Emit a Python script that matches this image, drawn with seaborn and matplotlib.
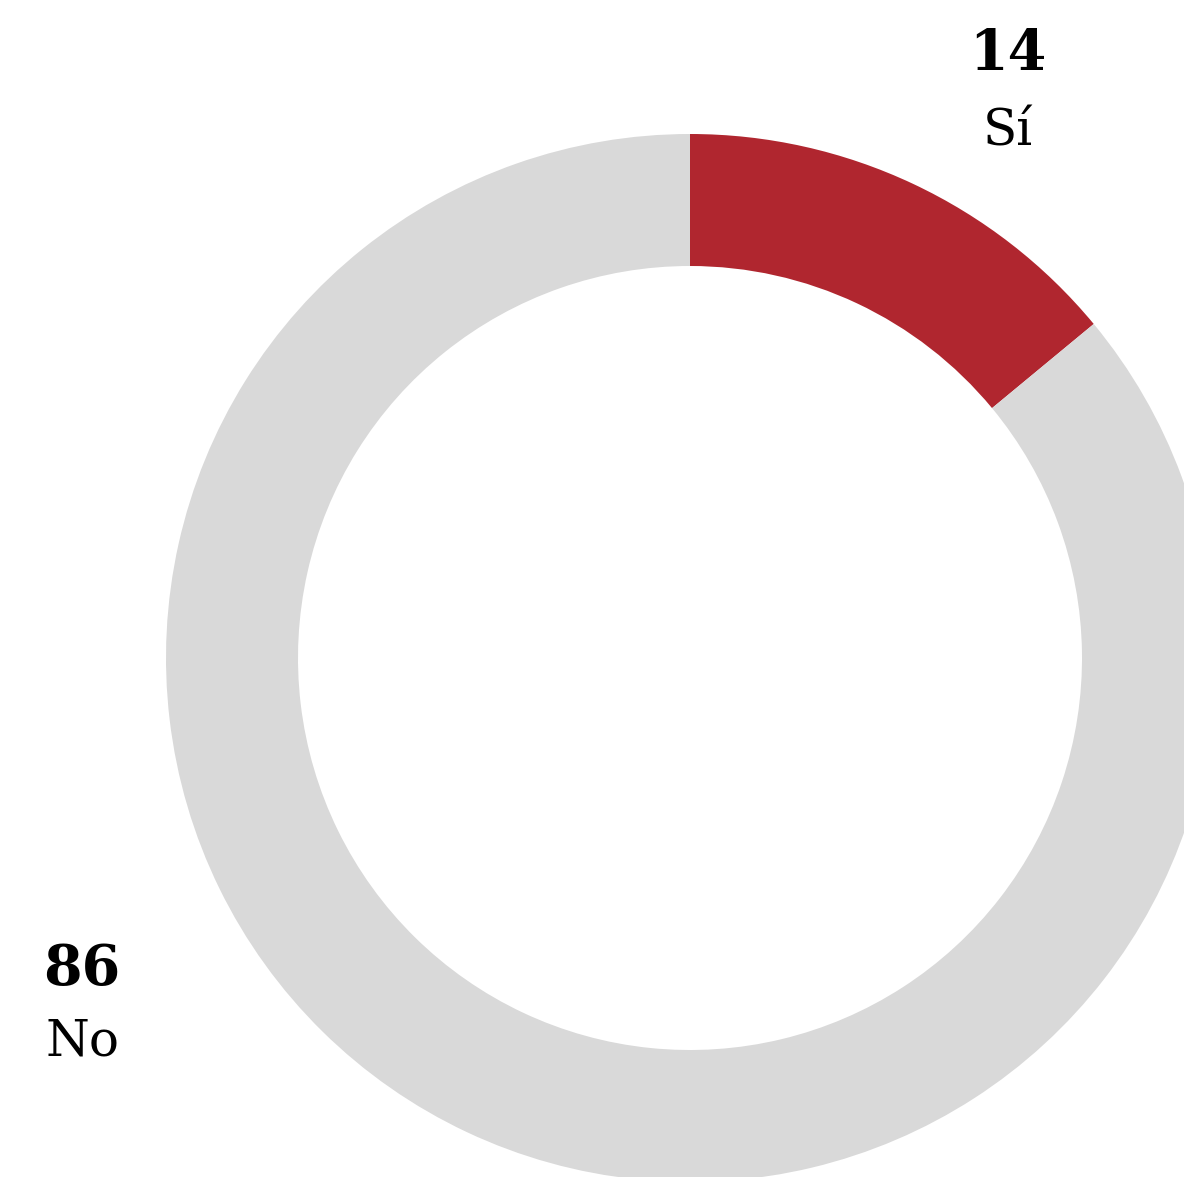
import matplotlib
matplotlib.use("Agg")
import matplotlib.pyplot as plt
import seaborn as sns

# Data
labels = ["Sí", "No"]
values = [14, 86]
colors = ["#B0262F", "#D9D9D9"]

W, H = 1184, 1177


def main():
    sns.set_theme(style="white")
    plt.rcParams['font.family'] = ['DejaVu Serif']

    fig = plt.figure(figsize=(W / 100, H / 100), dpi=100)
    ax = fig.add_axes([0, 0, 1, 1])

    # donut, drawn clockwise from the top
    cx, cy, r = 690, H - 658, 524
    ax.pie(values, colors=colors, startangle=90, counterclock=False,
           center=(cx, cy), radius=r,
           wedgeprops=dict(width=132, linewidth=0))

    ax.set_xlim(0, W)
    ax.set_ylim(0, H)
    ax.set_aspect('equal')
    ax.axis('off')

    # value + label for each slice
    spots = {"Sí": (1008, 70, 145), "No": (82, 985, 1056)}
    for lab, val in zip(labels, values):
        x, yv, yl = spots[lab]
        ax.text(x, H - yv, str(val), ha='center', va='baseline',
                fontsize=40, fontweight='bold', color='black')
        ax.text(x, H - yl, lab, ha='center', va='baseline',
                fontsize=36, color='black')

    fig.savefig('out.png', dpi=100, facecolor='white')


if __name__ == "__main__":
    main()
